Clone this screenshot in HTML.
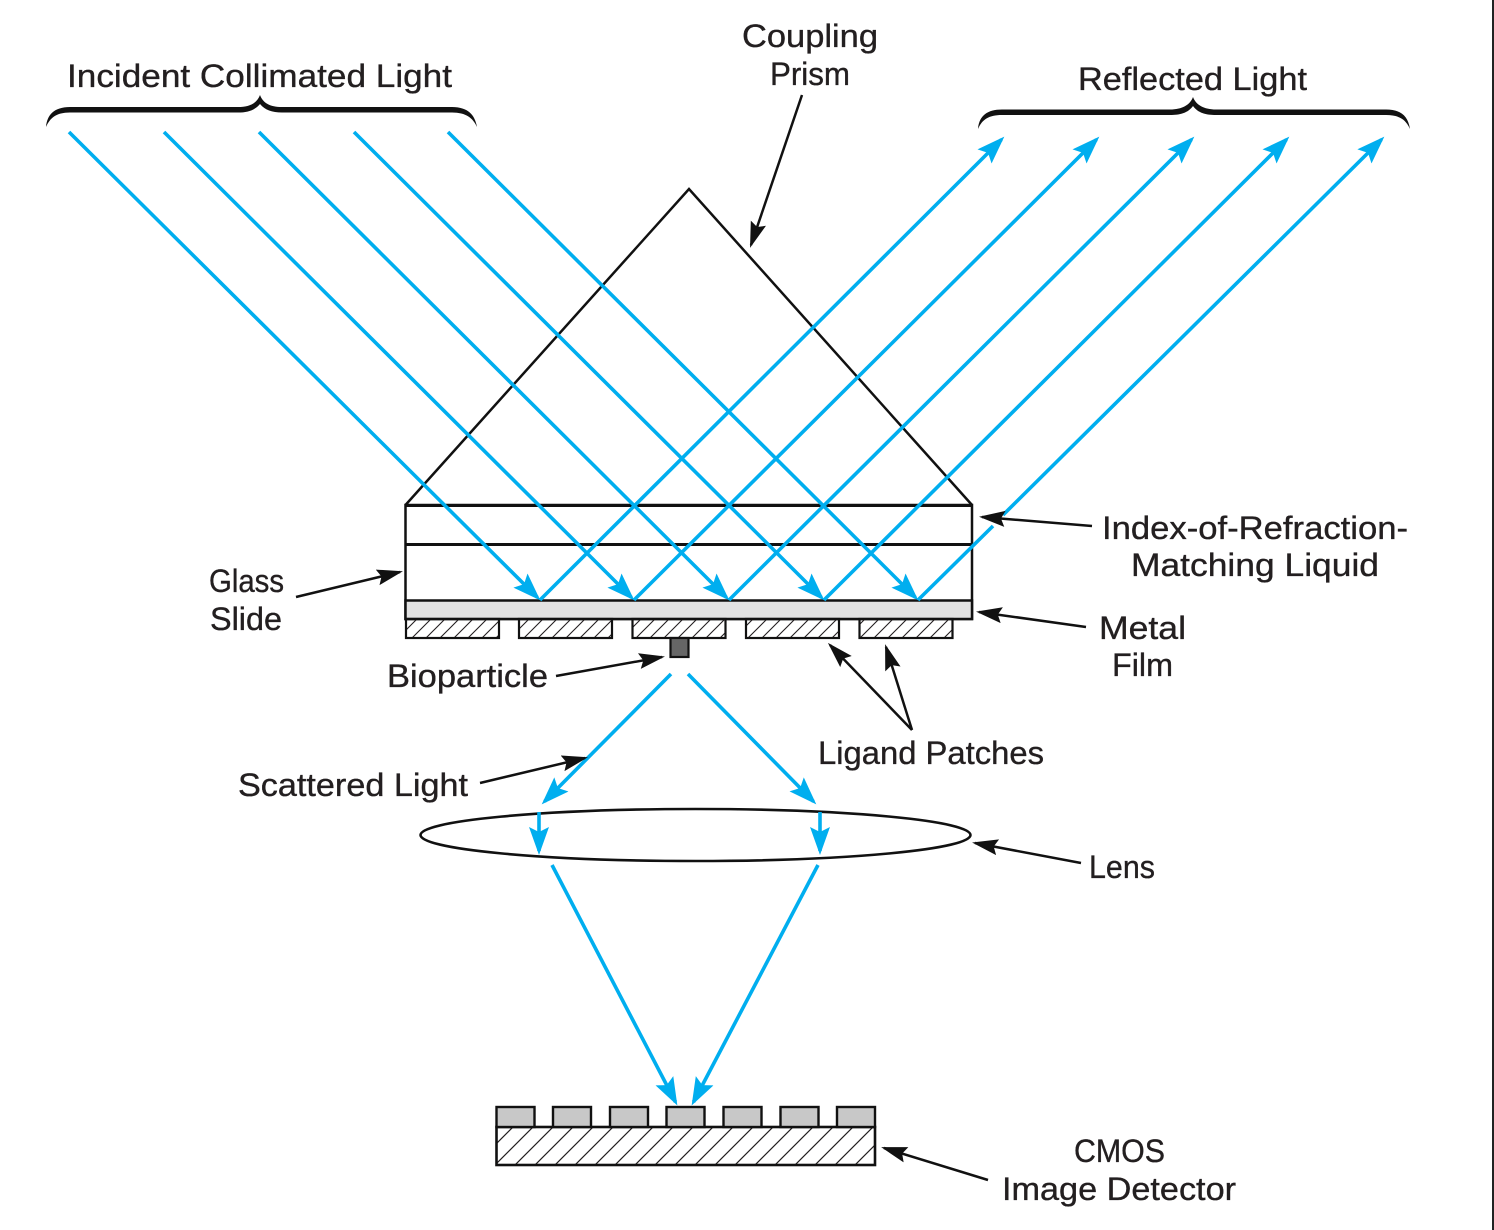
<!DOCTYPE html>
<html lang="en">
<head>
<meta charset="utf-8">
<title>Surface plasmon resonance diagram</title>
<style>
html,body{margin:0;padding:0;background:#fff;}
body{width:1494px;height:1230px;overflow:hidden;position:relative;}
svg{display:block;position:absolute;left:0;top:0;}
text{font-family:"Liberation Sans",sans-serif;font-size:32px;fill:#231f20;stroke:#231f20;stroke-width:.35px;}
</style>
</head>
<body>
<svg width="1494" height="1230" viewBox="0 0 1494 1230" xmlns="http://www.w3.org/2000/svg">
<defs>
<marker id="b" markerUnits="userSpaceOnUse" markerWidth="34" markerHeight="24" refX="24" refY="10" orient="auto">
<path d="M0 0 L28 10 L0 20 L5 10 Z" fill="#00aeef"/>
</marker>
<marker id="k" markerUnits="userSpaceOnUse" markerWidth="34" markerHeight="22" refX="23" refY="8" orient="auto">
<path d="M0 0 L26 8 L0 16 L4 8 Z" fill="#111"/>
</marker>
<pattern id="h1" patternUnits="userSpaceOnUse" width="14" height="14">
<path d="M-2 16 L16 -2 M-2 2 L2 -2 M12 16 L16 12" stroke="#231f20" stroke-width="1.1" fill="none"/>
</pattern>
<pattern id="h2" patternUnits="userSpaceOnUse" width="20" height="20">
<path d="M-2 22 L22 -2 M-2 2 L2 -2 M18 22 L22 18" stroke="#231f20" stroke-width="1.2" fill="none"/>
</pattern>
</defs>

<rect x="1492" y="0" width="2" height="1230" fill="#222"/>

<!-- prism -->
<path d="M405.500 505 L689 189 L972 505" fill="none" stroke="#111" stroke-width="2.500"/>
<!-- glass stack -->
<rect x="405.500" y="505" width="566.500" height="114" fill="none" stroke="#111" stroke-width="2.500"/>
<path d="M405 505.500 H973 M405 544.500 H973" stroke="#111" stroke-width="3" fill="none"/>
<rect x="405.500" y="600.500" width="566.500" height="18.500" fill="#e2e2e2" stroke="#111" stroke-width="2.500"/>

<!-- ligand patches -->
<g fill="url(#h1)" stroke="#111" stroke-width="2.200">
<rect x="406" y="619" width="93" height="19"/>
<rect x="519" y="619" width="93" height="19"/>
<rect x="632.500" y="619" width="93" height="19"/>
<rect x="746" y="619" width="93" height="19"/>
<rect x="859.500" y="619" width="93" height="19"/>
</g>
<rect x="670.500" y="638" width="18" height="19" fill="#666" stroke="#111" stroke-width="2.200"/>

<!-- lens -->
<ellipse cx="695.500" cy="835" rx="275" ry="26" fill="#fff" stroke="#111" stroke-width="2.600"/>

<!-- CMOS -->
<rect x="496.500" y="1127" width="378.500" height="38" fill="url(#h2)" stroke="#111" stroke-width="2.600"/>
<g fill="#c8c8c8" stroke="#111" stroke-width="2.400">
<rect x="496.500" y="1107" width="38" height="20"/>
<rect x="553" y="1107" width="38" height="20"/>
<rect x="610" y="1107" width="38" height="20"/>
<rect x="666.500" y="1107" width="38" height="20"/>
<rect x="723.500" y="1107" width="38" height="20"/>
<rect x="780.500" y="1107" width="38" height="20"/>
<rect x="837" y="1107" width="38" height="20"/>
</g>

<!-- incident rays -->
<g stroke="#00aeef" stroke-width="3.600" fill="none">
<path d="M69 132 L537.500 597.500" marker-end="url(#b)"/>
<path d="M164 132 L631.500 597.500" marker-end="url(#b)"/>
<path d="M259 132 L726.500 597.500" marker-end="url(#b)"/>
<path d="M354 132 L821.500 597.500" marker-end="url(#b)"/>
<path d="M448 132 L915.500 597.500" marker-end="url(#b)"/>
</g>
<!-- reflected rays -->
<g stroke="#00aeef" stroke-width="3.600" fill="none">
<path d="M540 600 L1001.500 139.500" marker-end="url(#b)"/>
<path d="M634 600 L1096.500 139.500" marker-end="url(#b)"/>
<path d="M729 600 L1191.500 139.500" marker-end="url(#b)"/>
<path d="M824 600 L1286.500 139.500" marker-end="url(#b)"/>
<path d="M918 600 L993 526"/>
<path d="M1003 515 L1381.500 139.500" marker-end="url(#b)"/>
</g>
<!-- scattered rays -->
<g stroke="#00aeef" stroke-width="3.600" fill="none">
<path d="M671 674 L544.500 801.500" marker-end="url(#b)"/>
<path d="M688 674 L813.500 801.500" marker-end="url(#b)"/>
<path d="M539 812 L539 851" marker-end="url(#b)"/>
<path d="M820 812 L820 851" marker-end="url(#b)"/>
<path d="M552 865 L675.500 1102" marker-end="url(#b)"/>
<path d="M818 865 L693.500 1102" marker-end="url(#b)"/>
</g>

<!-- leader arrows -->
<g stroke="#111" stroke-width="2.500" fill="none">
<path d="M802 95 L751 245" marker-end="url(#k)"/>
<path d="M1092 526 L982 517" marker-end="url(#k)"/>
<path d="M1086 627 L979 612" marker-end="url(#k)"/>
<path d="M296 597 L400 572" marker-end="url(#k)"/>
<path d="M556 676 L662 657" marker-end="url(#k)"/>
<path d="M912 730 L830 645" marker-end="url(#k)"/>
<path d="M912 730 L886 647" marker-end="url(#k)"/>
<path d="M480 783 L585 758" marker-end="url(#k)"/>
<path d="M1081 863 L975 843" marker-end="url(#k)"/>
<path d="M988 1180 L884 1148" marker-end="url(#k)"/>
</g>

<!-- braces -->
<path d="M46 127 C47 115 54 107 70 107 L238 107 C250 107 257 103 260 95 C263 103 270 107 282 107 L452 107 C468 107 475 115 477 127 C473 118 466 112.500 452 112.500 L282 112.500 C272 112.500 265 110 260 104 C255 110 248 112.500 238 112.500 L70 112.500 C56 112.500 50 118 46 127 Z" fill="#111"/>
<path d="M978 129 C979 116 987 109.500 1002 109.500 L1170 109.500 C1182 109.500 1190 105 1193 97 C1196 105 1204 109.500 1216 109.500 L1386 109.500 C1401 109.500 1408 116 1410 129 C1406 120 1400 115 1386 115 L1216 115 C1206 115 1198 113 1193 106 C1188 113 1180 115 1170 115 L1002 115 C988 115 982 120 978 129 Z" fill="#111"/>

<!-- labels -->
<text x="67" y="87" textLength="385" lengthAdjust="spacingAndGlyphs">Incident Collimated Light</text>
<text x="742" y="47" textLength="136" lengthAdjust="spacingAndGlyphs">Coupling</text>
<text x="770" y="85" textLength="80" lengthAdjust="spacingAndGlyphs">Prism</text>
<text x="1078" y="90" textLength="229" lengthAdjust="spacingAndGlyphs">Reflected Light</text>
<text x="1102" y="539" textLength="306" lengthAdjust="spacingAndGlyphs">Index-of-Refraction-</text>
<text x="1131" y="576" textLength="248" lengthAdjust="spacingAndGlyphs">Matching Liquid</text>
<text x="1099" y="639" textLength="87" lengthAdjust="spacingAndGlyphs">Metal</text>
<text x="1112" y="676" textLength="61" lengthAdjust="spacingAndGlyphs">Film</text>
<text x="209" y="592" textLength="75" lengthAdjust="spacingAndGlyphs">Glass</text>
<text x="210" y="630" textLength="72" lengthAdjust="spacingAndGlyphs">Slide</text>
<text x="387" y="687" textLength="161" lengthAdjust="spacingAndGlyphs">Bioparticle</text>
<text x="818" y="764" textLength="226" lengthAdjust="spacingAndGlyphs">Ligand Patches</text>
<text x="238" y="796" textLength="230" lengthAdjust="spacingAndGlyphs">Scattered Light</text>
<text x="1089" y="878" textLength="66" lengthAdjust="spacingAndGlyphs">Lens</text>
<text x="1074" y="1162" textLength="91" lengthAdjust="spacingAndGlyphs">CMOS</text>
<text x="1002" y="1200" textLength="234" lengthAdjust="spacingAndGlyphs">Image Detector</text>
</svg>
</body>
</html>
